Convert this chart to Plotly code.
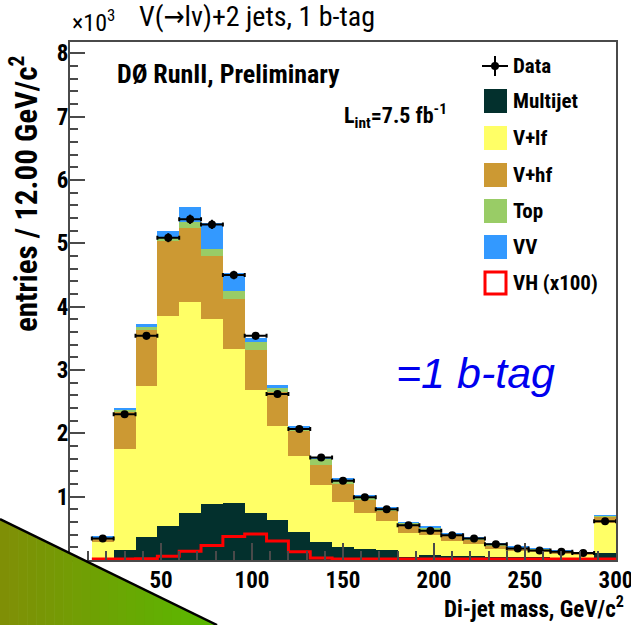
import math
import plotly.graph_objects as go

# ---------------- data (entries in units of 10^3) ----------------
bin_edges = [12, 24, 36, 48, 60, 72, 84, 96, 108, 120, 132, 144, 156, 168, 180,
             192, 204, 216, 228, 240, 252, 264, 276, 288, 300]
multijet = [0.01, 0.16, 0.36, 0.53, 0.74, 0.88, 0.90, 0.74, 0.63, 0.45, 0.28, 0.21,
            0.17, 0.16, 0.05, 0.08, 0.07, 0.06, 0.05, 0.04, 0.04, 0.03, 0.03, 0.11]
v_lf = [0.27, 1.60, 2.39, 3.33, 3.33, 2.93, 2.43, 1.95, 1.49, 1.19, 0.90, 0.71,
        0.57, 0.46, 0.37, 0.32, 0.23, 0.19, 0.13, 0.11, 0.09, 0.08, 0.06, 0.47]
v_hf = [0.07, 0.59, 0.89, 1.17, 1.18, 0.99, 0.79, 0.63, 0.53, 0.39, 0.32, 0.28,
        0.20, 0.15, 0.14, 0.08, 0.09, 0.06, 0.05, 0.04, 0.03, 0.025, 0.02, 0.10]
top = [0.01, 0.02, 0.04, 0.05, 0.08, 0.11, 0.13, 0.13, 0.08, 0.06, 0.11, 0.07,
       0.07, 0.05, 0.03, 0.04, 0.02, 0.04, 0.025, 0.015, 0.015, 0.01, 0.008, 0.02]
vv = [0.02, 0.02, 0.04, 0.12, 0.25, 0.41, 0.28, 0.05, 0.03, 0.02, 0.02, 0.01,
      0.01, 0.01, 0.01, 0.01, 0.01, 0.01, 0.005, 0.005, 0.005, 0.005, 0.002, 0.01]
vh_x100 = [0.015, 0.015, 0.02, 0.06, 0.14, 0.23, 0.37, 0.41, 0.30, 0.13, 0.03, 0.015,
           0.015, 0.015, 0.015, 0.015, 0.015, 0.015, 0.015, 0.015, 0.015, 0.015, 0.015, 0.015]
data = [0.34, 2.30, 3.54, 5.09, 5.38, 5.30, 4.50, 3.54, 2.62, 2.07, 1.62, 1.25,
        0.99, 0.80, 0.55, 0.46, 0.39, 0.34, 0.25, 0.18, 0.15, 0.13, 0.11, 0.61]
x_tick_vals = [50, 100, 150, 200, 250, 300]
y_tick_vals = [1, 2, 3, 4, 5, 6, 7, 8]

# ---------------- styling ----------------
FONT = ("Liberation Sans Narrow, Roboto Condensed, Noto Sans Condensed, "
        "DejaVu Sans Condensed, Liberation Sans, Arial")
W, H = 631, 625
L, R, T, B = 70, 15, 42, 65
PW, PH = W - L - R, H - T - B


def px(x):
    return (x - L) / PW


def py(y):
    return (H - B - y) / PH


centers = [(a + b) / 2 for a, b in zip(bin_edges[:-1], bin_edges[1:])]
widths = [b - a for a, b in zip(bin_edges[:-1], bin_edges[1:])]

fig = go.Figure()
stack = [("Multijet", multijet, "#03302d"),
         ("V+lf", v_lf, "#ffff66"),
         ("V+hf", v_hf, "#cc9933"),
         ("Top", top, "#99cc66"),
         ("VV", vv, "#3399ff")]
for name, vals, col in stack:
    fig.add_trace(go.Bar(x=centers, y=vals, width=widths, name=name,
                         marker=dict(color=col, line=dict(width=0)),
                         showlegend=False))

fig.add_trace(go.Scatter(x=bin_edges, y=vh_x100 + [vh_x100[-1]], mode="lines",
                         line=dict(color="#ff0000", width=3, shape="hv"),
                         name="VH (x100)", showlegend=False))

fig.add_trace(go.Scatter(x=centers, y=data, mode="markers", name="Data",
                         marker=dict(color="black", size=8),
                         error_x=dict(type="data", array=[w / 2 for w in widths],
                                      color="black", thickness=2, width=2),
                         error_y=dict(type="data",
                                      array=[math.sqrt(v * 1000) / 1000 for v in data],
                                      color="black", thickness=2, width=0),
                         showlegend=False))

axis_common = dict(showline=True, linecolor="#4a4a4a", linewidth=2, mirror=True,
                   ticks="inside", tickcolor="#4a4a4a", tickwidth=2,
                   showgrid=False, zeroline=False, layer="above traces",
                   ticklabeloverflow="allow", automargin=False,
                   tickfont=dict(family=FONT, size=23, color="black", weight="bold"))

fig.update_xaxes(range=[0, 300], tickvals=x_tick_vals, ticklen=17,
                 minor=dict(dtick=10, ticklen=9, ticks="inside",
                            tickcolor="#4a4a4a", tickwidth=2),
                 ticklabelstandoff=-2, **axis_common)
fig.update_yaxes(range=[0, 8.18], tickvals=y_tick_vals, ticklen=15,
                 minor=dict(dtick=0.2, ticklen=8, ticks="inside",
                            tickcolor="#4a4a4a", tickwidth=2),
                 ticklabelstandoff=-5, **axis_common)

shapes = []
# gradient triangle in bottom-left corner
x_top_end = 217
n = 24
c0 = (128, 142, 6)
c1 = (88, 186, 0)
for i in range(n):
    x0 = x_top_end * i / n
    x1 = x_top_end * (i + 1) / n + 0.6
    t = (i + 0.5) / n
    col = "rgb(%d,%d,%d)" % tuple(round(c0[k] + (c1[k] - c0[k]) * t) for k in range(3))
    y0t = 519 + (625 - 519) * x0 / x_top_end
    y1t = 519 + (625 - 519) * min(x1, x_top_end) / x_top_end
    path = "M %f %f L %f %f L %f %f L %f %f Z" % (
        px(x0), py(y0t), px(x1), py(y1t), px(x1), py(626), px(x0), py(626))
    shapes.append(dict(type="path", path=path, xref="paper", yref="paper",
                       fillcolor=col, line=dict(width=0), layer="above"))
shapes.append(dict(type="line", xref="paper", yref="paper",
                   x0=px(0), y0=py(519), x1=px(x_top_end), y1=py(625),
                   line=dict(color="black", width=2.5), layer="above"))

# manual legend
leg_x0, leg_x1 = 484, 507
rows = [("Multijet", "#03302d", 101), ("V+lf", "#ffff66", 138), ("V+hf", "#cc9933", 175),
        ("Top", "#99cc66", 211), ("VV", "#3399ff", 247)]
for name, col, yc in rows:
    shapes.append(dict(type="rect", xref="paper", yref="paper",
                       x0=px(leg_x0), x1=px(leg_x1), y0=py(yc + 12), y1=py(yc - 12),
                       fillcolor=col, line=dict(width=0)))
shapes.append(dict(type="rect", xref="paper", yref="paper",
                   x0=px(leg_x0 + 1), x1=px(leg_x1 - 1), y0=py(283 + 11), y1=py(283 - 11),
                   fillcolor="white", line=dict(color="#ff0000", width=3)))
# data legend symbol
shapes.append(dict(type="line", xref="paper", yref="paper",
                   x0=px(482), x1=px(508), y0=py(66), y1=py(66),
                   line=dict(color="black", width=2)))
shapes.append(dict(type="line", xref="paper", yref="paper",
                   x0=px(495), x1=px(495), y0=py(56), y1=py(76),
                   line=dict(color="black", width=2)))
shapes.append(dict(type="circle", xref="paper", yref="paper",
                   x0=px(491), x1=px(499), y0=py(62), y1=py(70),
                   fillcolor="black", line=dict(width=0)))

annotations = []
leg_names = [("Data", 66), ("Multijet", 101), ("V+lf", 138), ("V+hf", 175),
             ("Top", 211), ("VV", 247), ("VH (x100)", 283)]
for txt, yc in leg_names:
    annotations.append(dict(text=txt, x=px(511), y=py(yc), xref="paper", yref="paper",
                            xanchor="left", yanchor="middle", showarrow=False,
                            font=dict(family=FONT, size=21, color="black", weight="bold")))

annotations += [
    dict(text="V(\u2192l\u03bd)+2 jets, 1 b-tag", x=px(257), y=py(17),
         xref="paper", yref="paper", xanchor="center", yanchor="middle", showarrow=False,
         font=dict(family=FONT, size=28, color="black")),
    dict(text="\u00d710<sup>3</sup>", x=px(70), y=py(21), xref="paper", yref="paper",
         xanchor="left", yanchor="middle", showarrow=False,
         font=dict(family=FONT, size=24, color="black")),
    dict(text="D\u00d8 RunII, Preliminary", x=px(228), y=py(74), xref="paper", yref="paper",
         xanchor="center", yanchor="middle", showarrow=False,
         font=dict(family=FONT, size=26, color="black", weight="bold")),
    dict(text="L<sub>int</sub>=7.5 fb<sup>-1</sup>", x=px(395), y=py(116),
         xref="paper", yref="paper", xanchor="center", yanchor="middle", showarrow=False,
         font=dict(family=FONT, size=22, color="black", weight="bold")),
    dict(text="<i>=1 b-tag</i>", x=px(475), y=py(373), xref="paper", yref="paper",
         xanchor="center", yanchor="middle", showarrow=False,
         font=dict(family="Liberation Sans, Arial", size=43, color="#0000ee")),
    dict(text="entries / 12.00 GeV/c<sup>2</sup>", x=px(25), y=py(194),
         xref="paper", yref="paper", xanchor="center", yanchor="middle", showarrow=False,
         textangle=-90,
         font=dict(family=FONT, size=31, color="black", weight="bold")),
    dict(text="Di-jet mass, GeV/c<sup>2</sup>", x=px(626), y=py(607),
         xref="paper", yref="paper", xanchor="right", yanchor="middle", showarrow=False,
         font=dict(family=FONT, size=23, color="black", weight="bold")),
]

fig.update_layout(width=W, height=H, margin=dict(l=L, r=R, t=T, b=B),
                  paper_bgcolor="white", plot_bgcolor="white",
                  barmode="stack", bargap=0, showlegend=False,
                  shapes=shapes, annotations=annotations)

fig.write_html("out.html")
